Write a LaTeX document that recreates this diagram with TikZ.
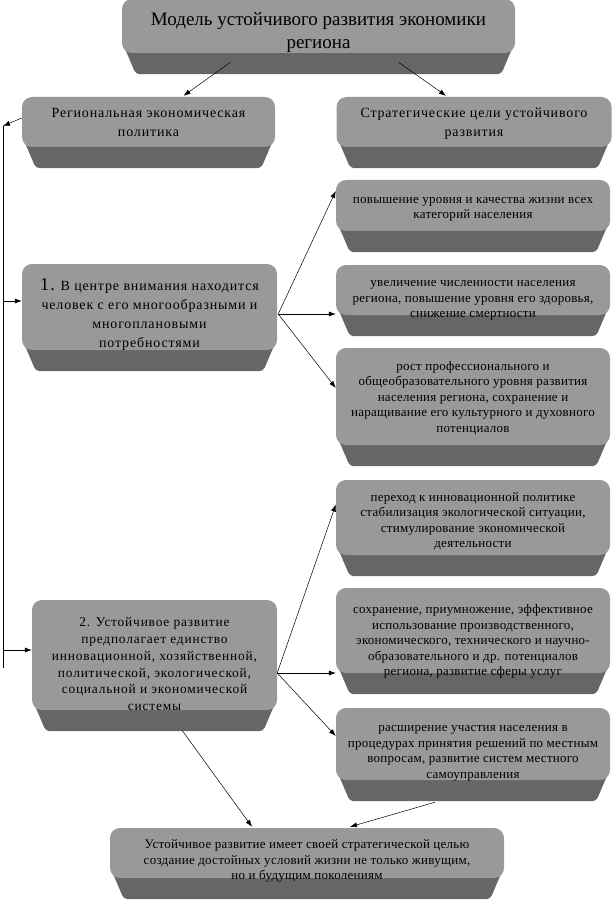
\documentclass[tikz,border=0pt]{standalone}
\usepackage{fontspec}
\setmainfont{Liberation Serif}
\usetikzlibrary{calc,arrows.meta,backgrounds}
\definecolor{face}{RGB}{153,153,153}
\definecolor{base}{RGB}{102,102,102}
\newfontfamily\widefont[LetterSpace=6]{Liberation Serif}
\newfontfamily\goalfont[LetterSpace=2]{Liberation Serif}
% centred lines, lowered by #1 without changing the box size
\newcommand{\lines}[2]{\raisebox{-#1pt}[0pt][0pt]{\begin{tabular}{@{}c@{}}#2\end{tabular}}}
\tikzset{
  slab/.style={fill=face, rounded corners=10pt, inner sep=2pt, font=\goalfont\fontsize{13}{15.5}\selectfont},
  bigslab/.style={slab, font=\widefont\fontsize{14}{19}\selectfont},
  arr/.style={-{Latex[length=7pt,width=5pt]}, line width=0.5pt},
}
% dark lower edge under a box
\newcommand{\slabbase}[1]{%
  \begin{scope}[on background layer]
    \fill[base, rounded corners=4pt] ($(#1.south west)+(0,-12)$) -- ($(#1.south east)+(0,-12)$) -- ($(#1.south east)+(-14,21)$) -- ($(#1.south west)+(14,21)$) -- cycle;
  \end{scope}}

\begin{document}
\begin{tikzpicture}[x=1pt,y=1pt,yscale=-1,xscale=1]
\useasboundingbox (0,0) rectangle (614,901);

% Text Node
\node[slab, minimum width=393, minimum height=54, font=\fontsize{19}{23}\selectfont] (model) at (318.5,26) {\lines{11}{Модель устойчивого развития экономики\\региона}};
% Text Node
\node[bigslab, minimum width=253, minimum height=50] (policy) at (148.5,122) {\lines{5}{Региональная экономическая\\политика}};
% Text Node
\node[bigslab, minimum width=275, minimum height=50] (goals) at (474,122) {\lines{5}{Стратегические цели  устойчивого\\развития}};

% Text Node
\node[slab, minimum width=274, minimum height=51] (goalA) at (473,205.5) {\lines{5.5}{повышение уровня и качества жизни всех\\категорий населения}};
% Text Node
\node[slab, minimum width=274, minimum height=50] (goalB) at (473,290) {\lines{12}{увеличение численности населения\\региона, повышение уровня его здоровья,\\снижение смертности}};
% Text Node
\node[slab, minimum width=274, minimum height=97] (goalC) at (473,396.5) {\lines{4.5}{рост профессионального и\\общеобразовательного уровня развития\\населения региона, сохранение и\\наращивание его культурного и духовного\\потенциалов}};
% Text Node
\node[bigslab, minimum width=255, minimum height=86] (first) at (149.5,307) {\lines{12}{{\fontsize{18}{19}\selectfont 1.} В центре внимания находится\\человек с его многообразными и\\многоплановыми\\потребностями}};

% Text Node
\node[slab, minimum width=274, minimum height=75] (goalD) at (473,517.5) {\lines{7}{переход к инновационной политике\\стабилизация экологической ситуации,\\стимулирование  экономической\\деятельности}};
% Text Node
\node[slab, minimum width=274, minimum height=85] (goalE) at (473,630.5) {\lines{14}{сохранение, приумножение, эффективное\\использование производственного,\\экономического, технического и научно-\\образовательного и др. потенциалов\\региона, развитие сферы услуг}};
% Text Node
\node[slab, minimum width=274, minimum height=72] (goalF) at (473,744) {\lines{11}{расширение участия населения в\\процедурах принятия решений по местным\\вопросам, развитие систем местного\\самоуправления}};
% Text Node
\node[slab, minimum width=245, minimum height=110, font=\widefont\fontsize{13.4}{16.7}\selectfont] (second) at (154.5,655) {\lines{14}{2. Устойчивое развитие\\предполагает единство\\инновационной, хозяйственной,\\политической, экологической,\\социальной и экономической\\системы}};

% Text Node
\node[slab, minimum width=394, minimum height=50] (aim) at (307,853) {\lines{11}{Устойчивое развитие имеет своей стратегической целью\\создание достойных условий жизни не только живущим,\\но и будущим поколениям}};

\slabbase{model}
\slabbase{policy}
\slabbase{goals}
\slabbase{goalA}
\slabbase{goalB}
\slabbase{goalC}
\slabbase{first}
\slabbase{goalD}
\slabbase{goalE}
\slabbase{goalF}
\slabbase{second}
\slabbase{aim}

%Straight Lines
\draw[arr] ($(model.south)+(-88,9)$) -- ($(policy.north)+(35,-1)$);
\draw[arr] ($(model.south)+(80,9)$) -- ($(goals.north)+(-28,-1)$);

% left rail
\coordinate (railtop) at (3,126);
\coordinate (railbot) at (3,668);
\coordinate (firstin) at ([yshift=-6pt]first.west);
\coordinate (secondin) at ([yshift=-5pt]second.west);
\draw[arr] ([yshift=-4pt]policy.west) -- (railtop);
\draw (railtop) -- (railbot);
\draw[arr] (railtop |- firstin) -- (firstin);
\draw[arr] (railtop |- secondin) -- (secondin);

% fan out to the goals
\coordinate (firstout) at ([xshift=1pt,yshift=7pt]first.east);
\draw[arr] (firstout) -- ([yshift=-14.5pt]goalA.west);
\draw[arr] (firstout) -- (firstout -| goalB.west);
\draw[arr] (firstout) -- ([yshift=-8.5pt]goalC.west);

\coordinate (secondout) at ([yshift=18pt]second.east);
\draw[arr] (secondout) -- ([yshift=-13pt]goalD.west);
\draw[arr] (secondout) -- (secondout -| goalE.west);
\draw[arr] (secondout) -- ([yshift=-8pt]goalF.west);

\draw[arr] ($(second.south)+(27.5,20)$) -- ($(aim.north)+(-55,-1)$);
\draw[arr] ($(goalF.south)+(-38,22)$) -- ($(aim.north)+(43,-1)$);

\end{tikzpicture}
\end{document}
